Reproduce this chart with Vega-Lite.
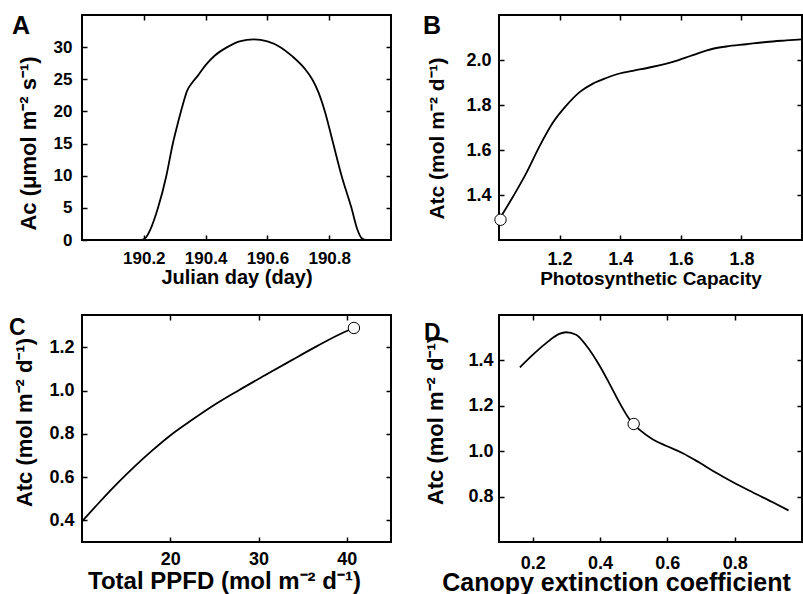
{
  "$schema": "https://vega.github.io/schema/vega-lite/v6.json",
  "padding": {"left": 8, "top": 13, "right": 0, "bottom": 0},
  "bounds": "flush",
  "columns": 2,
  "spacing": {"row": 75, "column": 108},
  "config": {
    "font": "Liberation Sans",
    "view": {"stroke": "black", "strokeWidth": 2},
    "axis": {
      "grid": false,
      "domain": false,
      "offset": -5,
      "tickColor": "black",
      "tickWidth": 1.5,
      "tickSize": 5,
      "labelFont": "Liberation Sans",
      "labelFontSize": 17,
      "labelFontWeight": "bold",
      "labelColor": "black",
      "labelPadding": 10,
      "titleFont": "Liberation Sans",
      "titleFontSize": 20,
      "titleFontWeight": "bold",
      "titleColor": "black"
    },
    "title": {"font": "Liberation Sans", "fontSize": 25, "fontWeight": "bold", "color": "black", "anchor": "start", "frame": "group", "baseline": "top", "offset": 0}
  },
  "concat": [
        {
          "width": 309, "height": 225,
          "title": {"text": "A", "dx": -70, "dy": 29},
          "data": {"values": [
            {"x": 190.0, "y": 0}, {"x": 190.19, "y": 0}, {"x": 190.205, "y": 0.3}, {"x": 190.22, "y": 1.5},
            {"x": 190.246, "y": 5}, {"x": 190.273, "y": 10}, {"x": 190.294, "y": 15}, {"x": 190.312, "y": 18.5},
            {"x": 190.326, "y": 21}, {"x": 190.34, "y": 23.2}, {"x": 190.357, "y": 24.5}, {"x": 190.374, "y": 25.5},
            {"x": 190.4, "y": 27.2}, {"x": 190.43, "y": 28.7}, {"x": 190.47, "y": 30.0}, {"x": 190.51, "y": 30.9},
            {"x": 190.556, "y": 31.2}, {"x": 190.6, "y": 30.9}, {"x": 190.642, "y": 30.0}, {"x": 190.68, "y": 28.6},
            {"x": 190.72, "y": 26.7}, {"x": 190.745, "y": 25.0}, {"x": 190.765, "y": 23.0}, {"x": 190.786, "y": 20},
            {"x": 190.813, "y": 15}, {"x": 190.84, "y": 10}, {"x": 190.872, "y": 5}, {"x": 190.89, "y": 1.8},
            {"x": 190.905, "y": 0.3}, {"x": 190.92, "y": 0}, {"x": 191.0, "y": 0}
          ]},
          "layer": [
            {
              "mark": {"type": "line", "color": "black", "strokeWidth": 1.8, "interpolate": "monotone"},
              "encoding": {
                "x": {"field": "x", "type": "quantitative", "scale": {"domain": [190, 191], "nice": false, "zero": false},
                      "axis": {"values": [190.2, 190.4, 190.6, 190.8], "format": ".1f", "title": "Julian day (day)", "titlePadding": 1, "labelFontSize": 17, "titleFontSize": 20}},
                "y": {"field": "y", "type": "quantitative", "scale": {"domain": [0, 35], "nice": false},
                      "axis": {"values": [0, 5, 10, 15, 20, 25, 30], "title": "Ac (μmol m⁻² s⁻¹)", "labelFontSize": 17, "titleFontSize": 22, "titleX": -59, "titleY": 128, "titleBaseline": "middle"}}
              }
            },
            {
              "mark": {"type": "line", "strokeOpacity": 0},
              "encoding": {
                "x": {"field": "x", "type": "quantitative", "axis": {"orient": "top", "labels": false, "title": null, "values": [190.2, 190.4, 190.6, 190.8]}},
                "y": {"field": "y", "type": "quantitative", "axis": {"orient": "right", "labels": false, "title": null, "values": [5, 10, 15, 20, 25, 30]}}
              }
            }
          ],
          "resolve": {"axis": {"x": "independent", "y": "independent"}}
        },
        {
          "width": 303, "height": 225,
          "title": {"text": "B", "dx": -76, "dy": 29},
          "layer": [
            {
              "data": {"values": [
                {"x": 1.0, "y": 1.29}, {"x": 1.046, "y": 1.392}, {"x": 1.09, "y": 1.497}, {"x": 1.134, "y": 1.617},
                {"x": 1.178, "y": 1.722}, {"x": 1.222, "y": 1.797}, {"x": 1.266, "y": 1.857}, {"x": 1.31, "y": 1.895},
                {"x": 1.354, "y": 1.92}, {"x": 1.398, "y": 1.94}, {"x": 1.442, "y": 1.952}, {"x": 1.508, "y": 1.97},
                {"x": 1.574, "y": 1.992}, {"x": 1.64, "y": 2.022}, {"x": 1.706, "y": 2.05}, {"x": 1.75, "y": 2.06},
                {"x": 1.816, "y": 2.07}, {"x": 1.882, "y": 2.08}, {"x": 1.948, "y": 2.087}, {"x": 2.0, "y": 2.092}
              ]},
              "mark": {"type": "line", "color": "black", "strokeWidth": 1.8, "interpolate": "monotone"},
              "encoding": {
                "x": {"field": "x", "type": "quantitative", "scale": {"domain": [1, 2], "nice": false, "zero": false},
                      "axis": {"values": [1.2, 1.4, 1.6, 1.8], "format": ".1f", "title": "Photosynthetic Capacity", "titlePadding": 1, "labelFontSize": 18, "titleFontSize": 19}},
                "y": {"field": "y", "type": "quantitative", "scale": {"domain": [1.2, 2.2], "nice": false, "zero": false},
                      "axis": {"values": [1.4, 1.6, 1.8, 2.0], "format": ".1f", "title": "Atc (mol m⁻² d⁻¹)", "labelFontSize": 18, "labelPadding": 8, "titleFontSize": 21, "titleX": -67, "titleY": 123, "titleBaseline": "middle"}}
              }
            },
            {
              "data": {"values": [{"x": 1.005, "y": 1.29}]},
              "mark": {"type": "point", "shape": "circle", "filled": true, "fill": "white", "stroke": "black", "strokeWidth": 1, "size": 130, "opacity": 1},
              "encoding": {
                "x": {"field": "x", "type": "quantitative", "axis": {"orient": "top", "labels": false, "title": null, "values": [1.2, 1.4, 1.6, 1.8]}},
                "y": {"field": "y", "type": "quantitative", "axis": {"orient": "right", "labels": false, "title": null, "values": [1.4, 1.6, 1.8, 2.0]}}
              }
            }
          ],
          "resolve": {"axis": {"x": "independent", "y": "independent"}}
        },
        {
          "width": 309, "height": 227,
          "title": {"text": "C", "dx": -73, "dy": 30, "fontSize": 23},
          "layer": [
            {
              "data": {"values": [
                {"x": 10, "y": 0.395}, {"x": 12, "y": 0.485}, {"x": 14, "y": 0.571}, {"x": 16, "y": 0.651},
                {"x": 18, "y": 0.725}, {"x": 20, "y": 0.793}, {"x": 22.43, "y": 0.864}, {"x": 25.06, "y": 0.936},
                {"x": 27.68, "y": 1.0}, {"x": 30.67, "y": 1.07}, {"x": 33.67, "y": 1.139}, {"x": 36.67, "y": 1.207},
                {"x": 39.66, "y": 1.27}, {"x": 40.8, "y": 1.29}
              ]},
              "mark": {"type": "line", "color": "black", "strokeWidth": 1.8, "interpolate": "monotone"},
              "encoding": {
                "x": {"field": "x", "type": "quantitative", "scale": {"domain": [10, 45], "nice": false, "zero": false},
                      "axis": {"values": [20, 30, 40], "title": "Total PPFD (mol m⁻² d⁻¹)", "titlePadding": 1, "titleX": 142, "labelFontSize": 18, "labelPadding": 8, "titleFontSize": 24}},
                "y": {"field": "y", "type": "quantitative", "scale": {"domain": [0.3, 1.35], "nice": false, "zero": false},
                      "axis": {"values": [0.4, 0.6, 0.8, 1.0, 1.2], "format": ".1f", "title": "Atc (mol m⁻² d⁻¹)", "labelFontSize": 18, "labelPadding": 8, "titleFontSize": 22, "titleX": -63, "titleY": 107, "titleBaseline": "middle"}}
              }
            },
            {
              "data": {"values": [{"x": 40.8, "y": 1.29}]},
              "mark": {"type": "point", "shape": "circle", "filled": true, "fill": "white", "stroke": "black", "strokeWidth": 1, "size": 130, "opacity": 1},
              "encoding": {
                "x": {"field": "x", "type": "quantitative", "axis": {"orient": "top", "labels": false, "title": null, "values": [20, 30, 40]}},
                "y": {"field": "y", "type": "quantitative", "axis": {"orient": "right", "labels": false, "title": null, "values": [0.4, 0.6, 0.8, 1.0, 1.2]}}
              }
            }
          ],
          "resolve": {"axis": {"x": "independent", "y": "independent"}}
        },
        {
          "width": 303, "height": 227,
          "title": {"text": "D", "dx": -75, "dy": 35, "fontSize": 23},
          "layer": [
            {
              "data": {"values": [
                {"x": 0.162, "y": 1.369}, {"x": 0.2, "y": 1.424}, {"x": 0.24, "y": 1.476}, {"x": 0.279, "y": 1.517},
                {"x": 0.299, "y": 1.524}, {"x": 0.329, "y": 1.513}, {"x": 0.358, "y": 1.468}, {"x": 0.398, "y": 1.379},
                {"x": 0.428, "y": 1.298}, {"x": 0.457, "y": 1.216}, {"x": 0.487, "y": 1.142}, {"x": 0.499, "y": 1.12},
                {"x": 0.517, "y": 1.095}, {"x": 0.556, "y": 1.053}, {"x": 0.596, "y": 1.024}, {"x": 0.646, "y": 0.991},
                {"x": 0.695, "y": 0.95}, {"x": 0.745, "y": 0.905}, {"x": 0.794, "y": 0.864}, {"x": 0.853, "y": 0.819},
                {"x": 0.913, "y": 0.775}, {"x": 0.96, "y": 0.739}
              ]},
              "mark": {"type": "line", "color": "black", "strokeWidth": 1.8, "interpolate": "monotone"},
              "encoding": {
                "x": {"field": "x", "type": "quantitative", "scale": {"domain": [0.1, 1.0], "nice": false, "zero": false},
                      "axis": {"values": [0.2, 0.4, 0.6, 0.8], "format": ".1f", "title": "Canopy extinction coefficient", "titlePadding": -2, "titleX": 117, "labelFontSize": 18, "labelPadding": 12, "titleFontSize": 25}},
                "y": {"field": "y", "type": "quantitative", "scale": {"domain": [0.6, 1.6], "nice": false, "zero": false},
                      "axis": {"values": [0.8, 1.0, 1.2, 1.4], "format": ".1f", "title": "Atc (mol m⁻² d⁻¹)", "labelFontSize": 18, "labelPadding": 6, "titleFontSize": 22, "titleX": -69, "titleY": 105, "titleBaseline": "middle"}}
              }
            },
            {
              "data": {"values": [{"x": 0.5, "y": 1.12}]},
              "mark": {"type": "point", "shape": "circle", "filled": true, "fill": "white", "stroke": "black", "strokeWidth": 1, "size": 130, "opacity": 1},
              "encoding": {
                "x": {"field": "x", "type": "quantitative", "axis": {"orient": "top", "labels": false, "title": null, "values": [0.2, 0.4, 0.6, 0.8]}},
                "y": {"field": "y", "type": "quantitative", "axis": {"orient": "right", "labels": false, "title": null, "values": [0.8, 1.0, 1.2, 1.4]}}
              }
            }
          ],
          "resolve": {"axis": {"x": "independent", "y": "independent"}}
        }
  ]
}
